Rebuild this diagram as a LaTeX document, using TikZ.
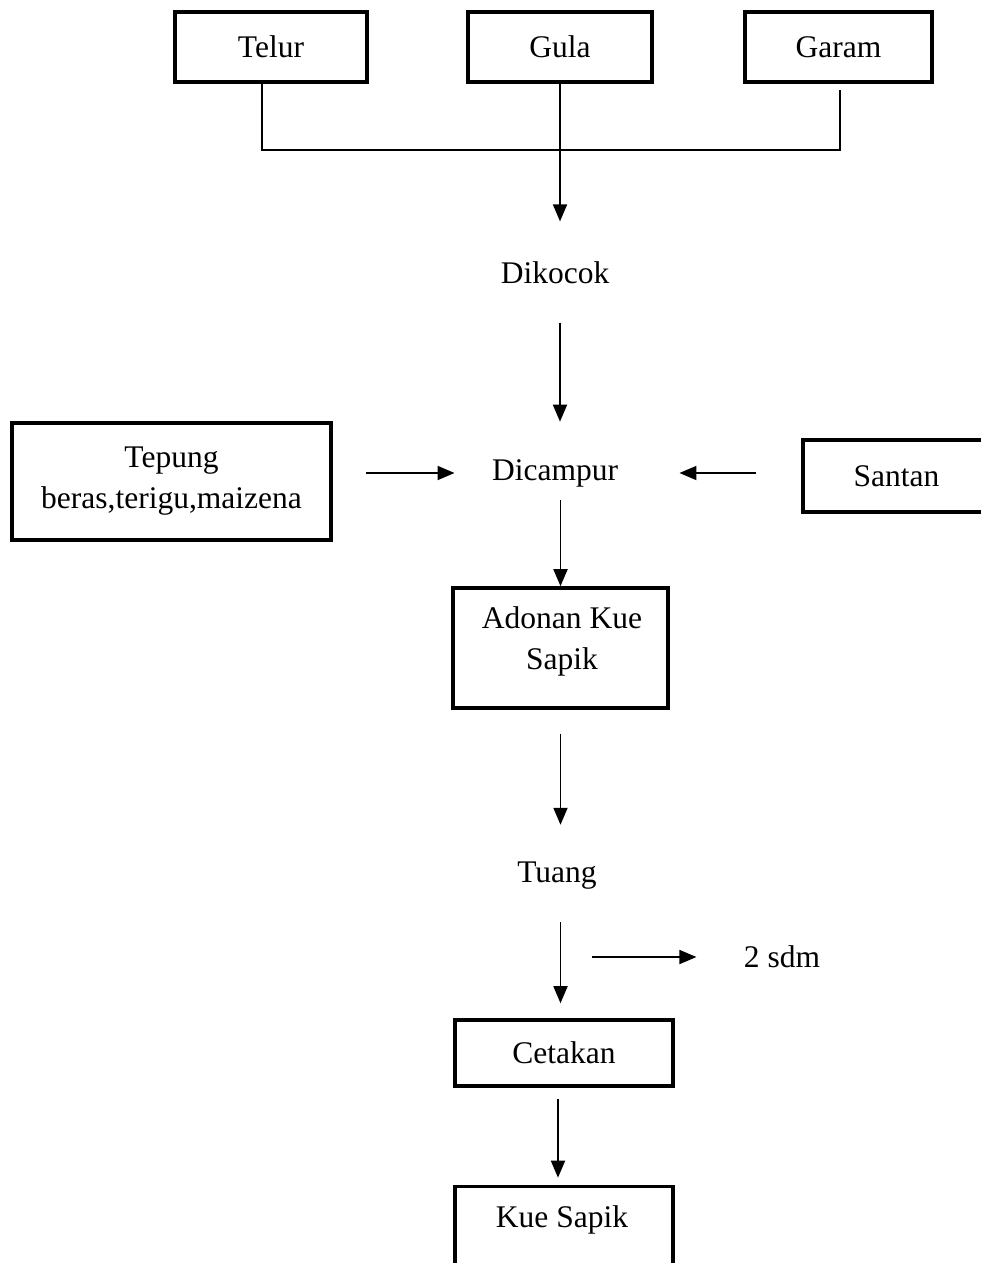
\documentclass[tikz,border=0pt]{standalone}
\usepackage{fontspec}
\setmainfont{Liberation Serif}
\usetikzlibrary{arrows.meta}
\begin{document}
\begin{tikzpicture}[x=1pt,y=-1pt,
  every node/.style={font=\fontsize{31.5}{41}\selectfont, inner sep=3.3pt},
  box/.style={draw, line width=3.6pt, align=center},
  txt/.style={align=center},
  arr/.style={line width=1.8pt, -{Triangle[length=17pt,width=14pt]}},
  merge/.style={line width=1.1pt}]
\useasboundingbox (0,0) rectangle (980,1263);
% top boxes
\node[box, minimum width=192, minimum height=70] (telur) at (271,47) {Telur};
\node[box, minimum width=184, minimum height=70] (gula) at (560,47) {Gula};
\node[box, minimum width=187, minimum height=70] (garam) at (838.5,47) {Garam};
\coordinate (jt) at (262,150);
\coordinate (jm) at (560,150);
\coordinate (jg) at (840,150);
\draw[merge] (telur.south -| jt) -- (jt) -- (jg) -- ([yshift=-6pt]garam.south -| jg);
\draw[merge] (gula.south -| jm) -- (jm);
% Dikocok
\node[txt] (dikocok) at (555,273) {Dikocok};
\draw[arr, shorten >=37pt] (jm) -- (jm |- dikocok.north);
% Dicampur
\node[txt] (dicampur) at (555,473) {Dicampur};
\draw[arr, shorten <=35pt, shorten >=34pt] (dikocok.south -| jm) -- (dicampur.north -| jm);
\node[box, minimum width=319, minimum height=117] (tepung) at (171.5,481.5) {Tepung\\beras,terigu,maizena};
\node[box, minimum width=187, minimum height=72] (santan) at (896.5,476) {Santan};
\draw[arr, shorten <=33pt, shorten >=34pt] (tepung.east |- dicampur) -- (dicampur.west);
\draw[arr, shorten <=45pt, shorten >=58pt] (santan.west |- dicampur) -- (dicampur.east);
% Adonan
\node[box, minimum width=215, minimum height=120] (adonan) at (560.5,648) {};
\node[txt] (adonantxt) at (562,641) {Adonan Kue\\Sapik};
\draw[arr, shorten <=10pt] (dicampur.south -| adonan.north) -- (adonan.north);
% Tuang
\node[txt] (tuang) at (557,876) {Tuang};
\draw[arr, shorten <=24pt, shorten >=34pt] (adonan.south) -- (adonan.south |- tuang.north);
% Cetakan
\node[box, minimum width=218, minimum height=66] (cetakan) at (564,1053) {Cetakan};
\draw[arr, shorten <=29pt, shorten >=15pt] (tuang.south -| adonan.south) -- (adonan.south |- cetakan.north);
% 2 sdm
\node[txt] (sdm) at (782,957) {2 sdm};
\coordinate (sdmstart) at (592,957);
\draw[arr, shorten >=44pt] (sdmstart) -- (sdm.west);
% Kue Sapik
\node[box, minimum width=218, minimum height=103] (kuebox) at (564,1238) {};
\node[txt] (kue) at (562,1220) {Kue Sapik};
\draw[arr, shorten <=11pt, shorten >=7pt] ([xshift=-6pt]cetakan.south) -- ([xshift=-6pt]kuebox.north);
\end{tikzpicture}
\end{document}
